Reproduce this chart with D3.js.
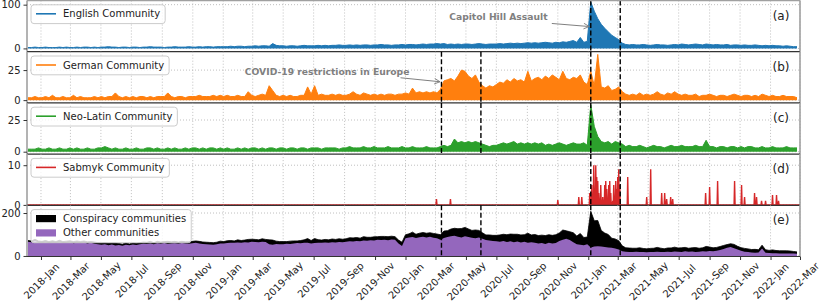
<!DOCTYPE html>
<html>
<head>
<meta charset="utf-8">
<script src="https://cdn.jsdelivr.net/npm/d3@7"></script>
<style>
  body { margin: 0; background: #fff; }
  svg { display: block; font-family: "DejaVu Sans", sans-serif; }
</style>
</head>
<body>
<div id="chart"></div>
<script>
const width = 822;
const height = 307;

// Weekly samples, first one on 2017-12-06 (so 2021-01-06 falls on a sample)
const weekStart = new Date(2017, 11, 6);

const english = [
  2,2,3,2,2,3,2,2,2,3, 2,3,2,2,3,2,3,3,2,3, 2,3,3,4,3,3,2,3,3,2, 3,3,2,3,3,4,3,3,3,2,
  3,3,4,3,3,3,4,3,3,4, 3,4,4,3,4,4,
  4,4,5,4,5,5,4,5,5,6, 5,6,6,5,11,7,6,6,5,6, 6,5,6,7,6,6,
  6,7,6,7,6,7,7,8,7,7, 8,7,8,7,8,8,7,8,8,9, 8,8,7,8,8,9,
  8,9,9,8,9,10,9,10,10,11, 10,11,9,10,9,10,9,10,10,9, 10,11,10,9,10,10,
  10,11,10,11,12,11,12,11,12,13, 12,13,12,13,14,13,12,14,13,15, 14,16,18,14,25,14,16,
  106,85,68,55,46,38,30,25,20,12,
  9,8,9,8,8,9,8,7,8,9, 8,8,7,8,9,8,10,9,8,9, 10,9,8,10,9,8,9,8,8,9, 7,8,8,7,8,7,7,8,7,6,
  7,6,7,6,6,5,6,5,4,4
];

const german = [
  2,2,3,2,2,3,2,4,2,2, 3,2,2,4,2,3,2,2,2,3, 2,3,2,3,3,6,
  3,2,3,2,3,2,3,3,2,3, 2,3,3,3,6,3,2,3,3,2, 3,3,3,4,3,3,3,4,3,4,
  3,4,3,3,4,3,3,7,4,3, 4,5,4,12,8,4,3,4,3,4, 3,3,4,4,11,5,
  12,4,5,4,4,5,4,5,4,4, 5,7,5,4,6,5,4,5,4,5, 4,5,5,4,5,5,
  6,5,10,6,7,6,7,6,7,6,
  9,16,17,18,16,20,25,24,20,18, 21,15,12,10,12,11,
  13,15,14,17,15,18,16,17,15,24, 16,18,19,17,20,18,21,19,17,24, 18,17,19,18,21,15,13,
  24,12,38,11,10,12,8,9,11,7,
  5,4,5,4,6,4,5,4,5,7, 5,4,6,5,7,5,4,5,4,4, 5,3,4,4,5,4,3,4,4,3, 4,5,4,3,4,4,3,4,3,5,
  4,3,4,3,3,4,3,3,3,2
];

const neoLatin = [
  2,2,2,3,2,2,3,2,2,3, 2,2,3,2,3,2,2,3,2,2, 3,3,4,3,2,3,2,2,3,2, 2,3,2,2,3,3,2,3,2,2,
  3,2,3,2,2,3,2,3,3,2, 3,2,3,3,2,3,
  2,3,2,2,3,2,3,2,3,3, 2,3,2,3,3,2,3,3,2,3, 3,2,3,3,2,3,3,3,2,3, 3,3,3,2,3,3,4,3,3,3,
  4,3,3,4,3,3,3,4,3,3, 3,4,3,3,4,3,3,3,4,3, 3,3,
  4,5,4,5,10,7,8,7,8,7, 8,7,6,5,4,5,
  5,6,7,6,7,8,6,7,6,7, 6,7,6,7,5,6,5,6,7,6, 5,6,7,6,6,7,5,
  37,20,12,8,7,8,6,8,7,6,
  4,5,4,4,5,4,3,4,5,4, 4,3,4,5,4,4,5,4,4,4, 5,4,4,9,4,4,3,4,4,3, 4,4,3,4,3,4,4,3,3,4,
  3,3,4,3,3,3,4,3,3,3
];

const other = [
  66,64,70,63,62,64,60,63,61,65, 60,62,64,59,62,60,63,58,61,57, 55,52,54,50,53,49,51,48,52,50,
  53,51,55,57,56,58,55,59,57,60, 56,58,59,57,60,58,57,59,61,58, 56,55,53,52,55,58,
  58,60,62,61,63,62,64,63,66,65,64,66,65,
  55,52,56,55,54,57,56,58,60,59,61,62,58,60,62,61,63,62,64,63,65,64,
  66,68,67,70,69,72,71,73,72,75,74,76,73,77,75,
  58,46,
  82,86,88,84,87,90,86,89,85,82,76,
  84,88,92,94,90,86,92,88,85,82, 86,80,74,72,70,
  68,66,70,65,68,64,67,63,66,62, 64,62,58,60,56,62,58,60,70,76, 80,74,64,55,52,50,54,
  40,44,45,44,42,40,38,35,30,22,
  20,19,18,20,19,18,17,19,18,20, 19,18,20,19,21,20,19,22,20,21, 19,20,22,21,23,22,24,28,33,38,
  42,36,30,24,20,18,16,15,16,35, 15,14,13,13,12,12,11,12,11,10
];

// Sabmyk community: daily counts, zero on every day not listed
const sabmykDates = [
  "2020-03-03","2020-03-31","2020-11-01","2020-12-13","2020-12-19","2021-01-04","2021-01-08","2021-01-12",
  "2021-01-16","2021-01-18","2021-01-20","2021-01-22","2021-01-26","2021-01-30","2021-02-03","2021-02-05",
  "2021-02-07","2021-02-11","2021-02-13","2021-02-15","2021-02-19","2021-02-21","2021-02-25","2021-02-27",
  "2021-03-01","2021-03-03","2021-03-05","2021-03-21","2021-04-28","2021-05-06","2021-05-28","2021-06-03",
  "2021-06-07","2021-06-15","2021-06-19","2021-08-24","2021-09-01","2021-09-17","2021-10-21","2021-11-04",
  "2021-11-10","2021-11-30","2021-12-04","2021-12-14","2021-12-22","2022-01-05","2022-01-13","2022-01-17"
];
const sabmykValues = [
  1.5,1.5,1.2,2,2,3,5,10, 10,7,6,3,5,2,5,6, 4,5,6,3,1,5,6,4, 7,9,5,7,2,9,3,3,
  1.5,2,1.5,3,4.5,6,6,5, 2,3,2,1,1,2.5,2.5,1
];

const communityNames = ["English Community", "German Community", "Neo-Latin Community", "Sabmyk Community"];
const stackNames = ["Conspiracy communities", "Other communities"];
const panelLabels = ["(a)", "(b)", "(c)", "(d)", "(e)"];
const covidLines = ["2020-03-13", "2020-05-31"];
const capitolLines = ["2021-01-06", "2021-03-06"];

const parse = d3.timeParse("%Y-%m-%d");

// ---- build series ----
const weekly = arr => arr.map((v, i) => ({ date: d3.timeDay.offset(weekStart, 7 * i), value: v }));

const xStart = new Date(2017, 11, 4);
const xEnd = new Date(2022, 2, 1);

const sabmykMap = new Map(sabmykDates.map((d, i) => [d, sabmykValues[i]]));
const fmtDay = d3.timeFormat("%Y-%m-%d");
const sabmykDaily = d3.timeDay.range(xStart, d3.timeDay.offset(xEnd, 1))
  .map(d => ({ date: d, value: sabmykMap.get(fmtDay(d)) || 0 }));

// conspiracy communities = sum of the four communities (sabmyk averaged over the week)
const conspiracy = english.map((v, i) => {
  const c = d3.timeDay.offset(weekStart, 7 * i);
  const win = sabmykDaily.filter(d => Math.abs(d.date - c) < 3.6 * 864e5);
  return v + (german[i] || 0) + (neoLatin[i] || 0) + (d3.mean(win, d => d.value) || 0);
});
const stacked = other.map((v, i) => ({
  date: d3.timeDay.offset(weekStart, 7 * i),
  other: v,
  total: v + (conspiracy[i] || 0)
}));

// ---- layout ----
const left = 27, right = 800, top0 = 0.5, panelH = 51.2;

const x = d3.scaleTime().domain([xStart, xEnd]).range([left, right]);

const panels = [
  { data: weekly(english), color: "#1f77b4", name: communityNames[0], domain: [-7.5, 109.5], ticks: [0, 100], covid: false, lw: 1 },
  { data: weekly(german), color: "#ff7f0e", name: communityNames[1], domain: [-2.3, 40.3], ticks: [0, 25], covid: true, lw: 1 },
  { data: weekly(neoLatin), color: "#2ca02c", name: communityNames[2], domain: [-1.9, 38.5], ticks: [0, 25], covid: true, lw: 1 },
  { data: sabmykDaily, color: "#d62728", name: communityNames[3], domain: [-0.1, 12.8], ticks: [0, 10], covid: false, lw: 1.4 },
  { data: null, color: null, name: null, domain: [-2.5, 236], ticks: [0, 200], covid: true }
];

const svg = d3.select("#chart").append("svg")
  .attr("width", width)
  .attr("height", height)
  .attr("viewBox", `0 0 ${width} ${height}`);

const defs = svg.append("defs");
defs.append("marker")
  .attr("id", "arrow")
  .attr("viewBox", "0 0 10 10")
  .attr("refX", 9).attr("refY", 5)
  .attr("markerWidth", 7).attr("markerHeight", 7)
  .attr("markerUnits", "userSpaceOnUse")
  .attr("orient", "auto")
  .append("path")
  .attr("d", "M1,1 L9,5 L1,9")
  .attr("fill", "none")
  .attr("stroke", "#808080")
  .attr("stroke-width", 1.3);

const gridMonths = d3.timeMonth.every(2).range(new Date(2018, 0, 1), d3.timeDay.offset(xEnd, 1));

panels.forEach((p, i) => {
  const y0 = top0 + i * panelH;
  const y1 = y0 + panelH;
  const y = d3.scaleLinear().domain(p.domain).range([y1, y0]);
  p.y = y;
  p.top = y0;

  const g = svg.append("g").attr("class", "panel");

  defs.append("clipPath").attr("id", "clip" + i)
    .append("rect").attr("x", left).attr("y", y0).attr("width", right - left).attr("height", panelH);

  // grid
  g.append("g").selectAll("line").data(gridMonths).join("line")
    .attr("x1", d => x(d)).attr("x2", d => x(d))
    .attr("y1", y0).attr("y2", y1)
    .attr("stroke", "#b0b0b0").attr("stroke-width", 0.8).attr("stroke-dasharray", "1,2");
  g.append("g").selectAll("line").data(p.ticks).join("line")
    .attr("x1", left).attr("x2", right)
    .attr("y1", d => y(d)).attr("y2", d => y(d))
    .attr("stroke", "#b0b0b0").attr("stroke-width", 0.8).attr("stroke-dasharray", "1,2");

  const plot = g.append("g").attr("clip-path", `url(#clip${i})`);

  if (p.data) {
    const area = d3.area().x(d => x(d.date)).y0(y(0)).y1(d => y(d.value));
    const line = d3.line().x(d => x(d.date)).y(d => y(d.value));
    plot.append("path").datum(p.data).attr("d", area).attr("fill", p.color);
    plot.append("path").datum(p.data).attr("d", line)
      .attr("fill", "none").attr("stroke", p.color).attr("stroke-width", p.lw);
  } else {
    const total = d3.area().x(d => x(d.date)).y0(y(0)).y1(d => y(d.total));
    const oth = d3.area().x(d => x(d.date)).y0(y(0)).y1(d => y(d.other));
    plot.append("path").datum(stacked).attr("d", total).attr("fill", "#000");
    plot.append("path").datum(stacked)
      .attr("d", d3.line().x(d => x(d.date)).y(d => y(d.total)))
      .attr("fill", "none").attr("stroke", "#000").attr("stroke-width", 0.8);
    plot.append("path").datum(stacked).attr("d", oth).attr("fill", "#9467bd");
  }

  // event lines
  const events = (p.covid ? covidLines : []).concat(capitolLines).map(parse);
  g.append("g").selectAll("line").data(events).join("line")
    .attr("x1", d => x(d)).attr("x2", d => x(d))
    .attr("y1", y0).attr("y2", y1)
    .attr("stroke", "#000").attr("stroke-width", 1.4).attr("stroke-dasharray", "5,2.5");

  // spines
  g.append("line").attr("x1", left).attr("x2", left).attr("y1", y0).attr("y2", y1)
    .attr("stroke", "#a0a0a0").attr("stroke-width", 1.6);
  g.append("line").attr("x1", right).attr("x2", right).attr("y1", y0).attr("y2", y1)
    .attr("stroke", "#a0a0a0").attr("stroke-width", 1.6);
  if (i === 0) {
    g.append("line").attr("x1", left).attr("x2", right).attr("y1", y0).attr("y2", y0)
      .attr("stroke", "#a0a0a0").attr("stroke-width", 1.6);
  }
  g.append("line").attr("x1", left).attr("x2", right).attr("y1", y1).attr("y2", y1)
    .attr("stroke", "#333").attr("stroke-width", 1.2);

  // y axis
  const ya = g.append("g").attr("transform", `translate(${left},0)`)
    .call(d3.axisLeft(y).tickValues(p.ticks).tickSize(3.5).tickPadding(3));
  ya.select(".domain").remove();
  ya.selectAll("text").attr("font-size", 10).attr("fill", "#222").attr("font-family", "DejaVu Sans");
  ya.selectAll("line").attr("stroke", "#333");

  // panel label
  g.append("text")
    .attr("x", 781).attr("y", y0 + 15)
    .attr("text-anchor", "middle").attr("dominant-baseline", "central")
    .attr("font-size", 12).attr("fill", "#222")
    .text(panelLabels[i]);
});

// legends, drawn over the data like matplotlib does
panels.forEach(p => {
  const g = svg.append("g").attr("class", "legend");
  const entries = p.data
    ? [{ name: p.name, color: p.color, kind: "line" }]
    : [{ name: stackNames[0], color: "#000", kind: "patch" }, { name: stackNames[1], color: "#9467bd", kind: "patch" }];
  const boxY = p.top + 4.3;
  const rowH = 14.3;
  const boxH = entries.length * rowH + 4.5;
  const box = g.append("rect")
    .attr("x", 31).attr("y", boxY).attr("height", boxH).attr("rx", 3)
    .attr("fill", "#fff").attr("fill-opacity", 0.8)
    .attr("stroke", "#cccccc").attr("stroke-width", 1);
  let maxW = 0;
  entries.forEach((e, k) => {
    const cy = boxY + 9 + k * rowH;
    if (e.kind === "line") {
      g.append("line").attr("x1", 36).attr("x2", 56).attr("y1", cy).attr("y2", cy)
        .attr("stroke", e.color).attr("stroke-width", 1.6);
    } else {
      g.append("rect").attr("x", 36).attr("y", cy - 3.6).attr("width", 20).attr("height", 7.2)
        .attr("fill", e.color);
    }
    const t = g.append("text").attr("x", 63).attr("y", cy)
      .attr("dominant-baseline", "central")
      .attr("font-size", 10).attr("fill", "#222")
      .text(e.name);
    maxW = Math.max(maxW, t.node().getComputedTextLength());
  });
  box.attr("width", 63 + maxW + 5 - 31);
});

// x axis under the last panel
const last = panels[panels.length - 1];
const xa = svg.append("g")
  .attr("transform", `translate(0,${last.top + panelH})`)
  .call(d3.axisBottom(x).tickValues(gridMonths).tickFormat(d3.timeFormat("%Y-%b")).tickSize(3.5));
xa.select(".domain").remove();
xa.selectAll("line").attr("stroke", "#333");
xa.selectAll("text")
  .attr("y", null).attr("dy", null)
  .attr("transform", "translate(0,24.5) rotate(-45)")
  .attr("text-anchor", "middle").attr("dominant-baseline", "central")
  .attr("font-size", 10).attr("fill", "#222").attr("font-family", "DejaVu Sans");

// annotations
const annotations = [
  { panel: 0, text: "Capitol Hill Assault", at: ["2020-07-05", 74], from: ["2020-10-20", 57], to: ["2021-01-03", 50] },
  { panel: 1, text: "COVID-19 restrictions in Europe", at: ["2019-07-28", 24], from: ["2019-12-22", 18.6], to: ["2020-03-10", 15.3] }
];
annotations.forEach(a => {
  const y = panels[a.panel].y;
  svg.append("line")
    .attr("x1", x(parse(a.from[0]))).attr("y1", y(a.from[1]))
    .attr("x2", x(parse(a.to[0]))).attr("y2", y(a.to[1]))
    .attr("stroke", "#808080").attr("stroke-width", 1)
    .attr("marker-end", "url(#arrow)");
  svg.append("text")
    .attr("x", x(parse(a.at[0]))).attr("y", y(a.at[1]))
    .attr("text-anchor", "middle").attr("dominant-baseline", "central")
    .attr("font-size", 9.2).attr("font-weight", "bold").attr("fill", "#808080")
    .text(a.text);
});
</script>
</body>
</html>
